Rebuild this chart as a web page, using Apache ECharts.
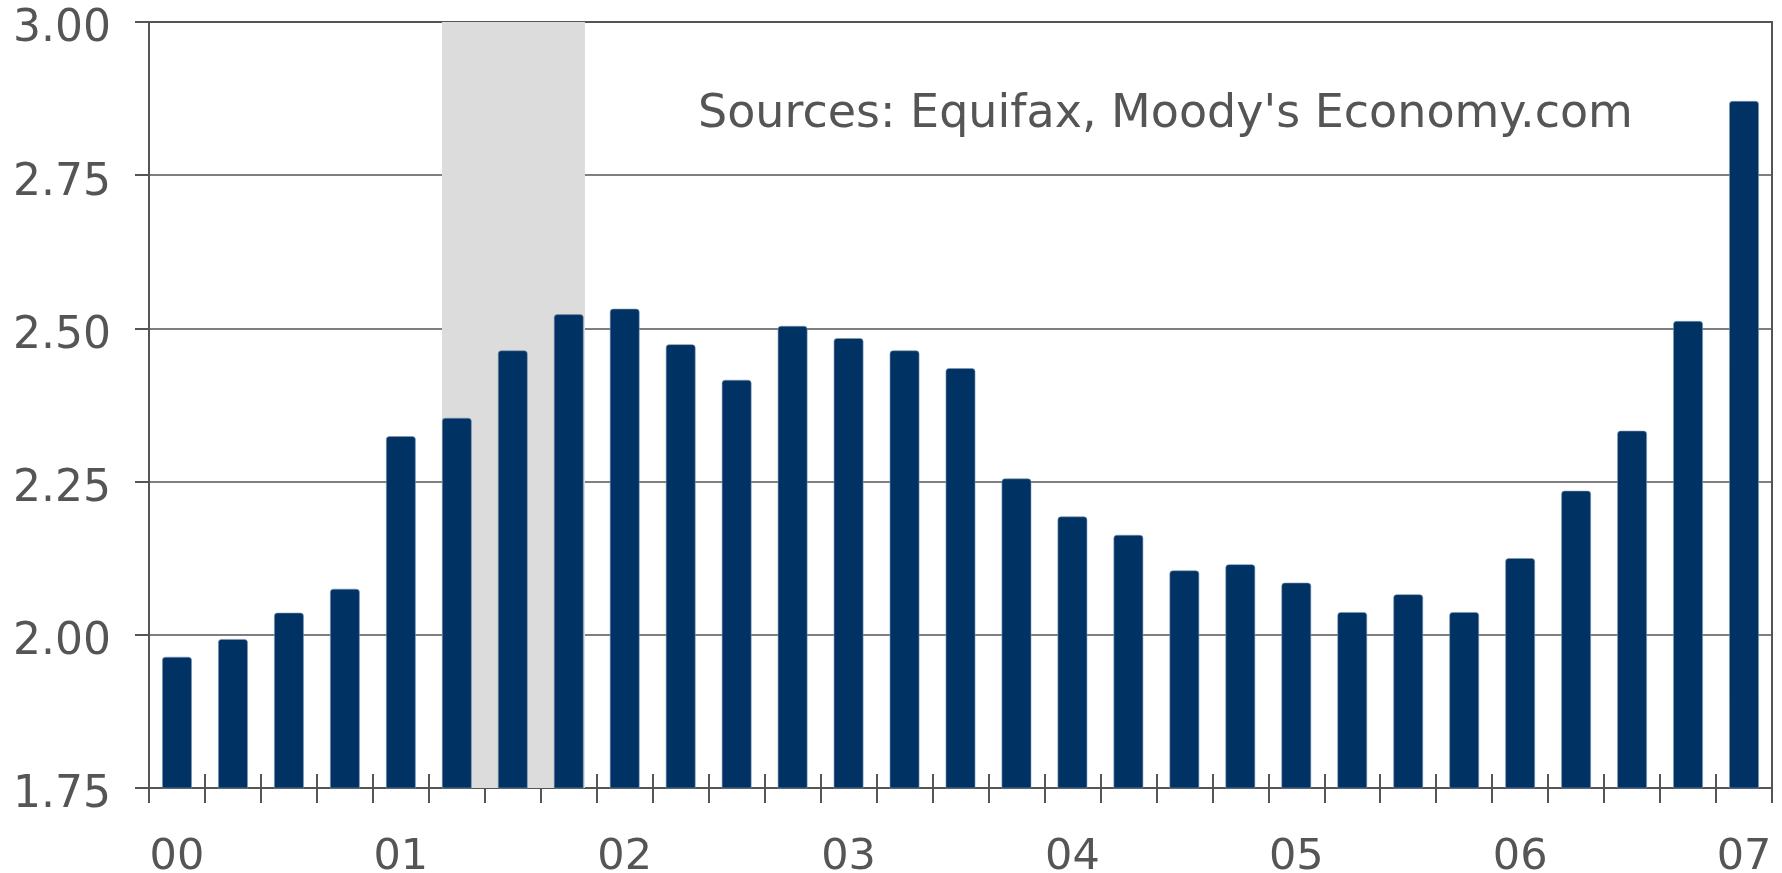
<!DOCTYPE html>
<html>
<head>
<meta charset="utf-8">
<script src="https://cdn.jsdelivr.net/npm/echarts@6/dist/echarts.min.js"></script>
<style>
  html, body { margin: 0; padding: 0; background: #fff; }
  #chart { width: 1782px; height: 873px; }
</style>
</head>
<body>
<div id="chart"></div>
<script>
// quarters 2000Q1 .. 2007Q1
const categories = [
  '00Q1', '00Q2', '00Q3', '00Q4',
  '01Q1', '01Q2', '01Q3', '01Q4',
  '02Q1', '02Q2', '02Q3', '02Q4',
  '03Q1', '03Q2', '03Q3', '03Q4',
  '04Q1', '04Q2', '04Q3', '04Q4',
  '05Q1', '05Q2', '05Q3', '05Q4',
  '06Q1', '06Q2', '06Q3', '06Q4',
  '07Q1'
];

const values = [
  1.964, 1.993, 2.036, 2.075,
  2.324, 2.354, 2.464, 2.523,
  2.532, 2.474, 2.416, 2.504,
  2.484, 2.464, 2.435, 2.255,
  2.193, 2.163, 2.105, 2.115,
  2.085, 2.037, 2.066, 2.037,
  2.125, 2.235, 2.333, 2.512,
  2.871
];

const yTicks = [1.75, 2.00, 2.25, 2.50, 2.75, 3.00];

// recession shading, in quarter units along the x axis (2001Q2 .. 2001Q4)
const recession = [5.235, 7.79];

const sourceText = "Sources: Equifax, Moody's Economy.com";

const textColor = '#555';
const lineColor = '#555';
const barColor = '#003263';
const font = '"DejaVu Sans", Verdana, sans-serif';

const chart = echarts.init(document.getElementById('chart'));

const option = {
  animation: false,
  backgroundColor: '#fff',
  grid: {
    left: 149,
    right: 10,
    top: 22,
    bottom: 85,
    show: true,
    borderColor: lineColor,
    borderWidth: 2,
    containLabel: false,
    outerBoundsMode: 'none'
  },
  xAxis: [
    {
      type: 'category',
      data: categories,
      boundaryGap: true,
      axisLine: { show: true, lineStyle: { color: lineColor, width: 2 } },
      axisTick: { show: true, interval: 0, length: 15, inside: false, lineStyle: { color: lineColor, width: 2 } },
      axisLabel: {
        interval: (idx) => idx % 4 === 0,
        formatter: (v) => v.slice(0, 2),
        fontSize: 43,
        fontFamily: font,
        color: textColor,
        margin: 48
      },
      splitLine: { show: false }
    },
    {
      // same categories again, only to draw the tick halves above the axis
      type: 'category',
      data: categories,
      position: 'bottom',
      boundaryGap: true,
      axisLine: { show: false },
      axisTick: { show: true, interval: 0, length: 14, inside: true, lineStyle: { color: lineColor, width: 2 } },
      axisLabel: { show: false },
      splitLine: { show: false }
    },
    {
      // hidden linear axis in quarter units for the shaded period
      type: 'value',
      min: 0,
      max: categories.length,
      show: false
    }
  ],
  yAxis: {
    type: 'value',
    min: yTicks[0],
    max: yTicks[yTicks.length - 1],
    interval: 0.25,
    axisLine: { show: true, lineStyle: { color: lineColor, width: 2 } },
    axisTick: { show: true, length: 14, lineStyle: { color: lineColor, width: 2 } },
    axisLabel: {
      formatter: (v) => v.toFixed(2),
      fontSize: 44,
      fontFamily: font,
      color: textColor,
      margin: 38,
      verticalAlign: 'top',
      lineHeight: 16
    },
    splitLine: { show: true, lineStyle: { color: lineColor, width: 1.5 } }
  },
  series: [
    {
      type: 'line',
      xAxisIndex: 2,
      data: [],
      z: -1,
      silent: true,
      markArea: {
        silent: true,
        itemStyle: { color: '#dcdcdc' },
        data: [[
          { xAxis: recession[0], yAxis: yTicks[0] },
          { xAxis: recession[1], yAxis: yTicks[yTicks.length - 1] }
        ]]
      }
    },
    {
      type: 'bar',
      xAxisIndex: 0,
      data: values,
      barWidth: '53%',
      z: 3,
      itemStyle: {
        color: barColor,
        borderColor: '#7f96b6',
        borderWidth: 0.6,
        borderRadius: [3, 3, 0, 0]
      }
    }
  ],
  graphic: [
    {
      type: 'text',
      left: 698,
      top: 92,
      z: 10,
      style: {
        text: sourceText,
        fontSize: 46,
        fontFamily: font,
        fill: textColor
      }
    }
  ]
};

chart.setOption(option);
</script>
</body>
</html>
